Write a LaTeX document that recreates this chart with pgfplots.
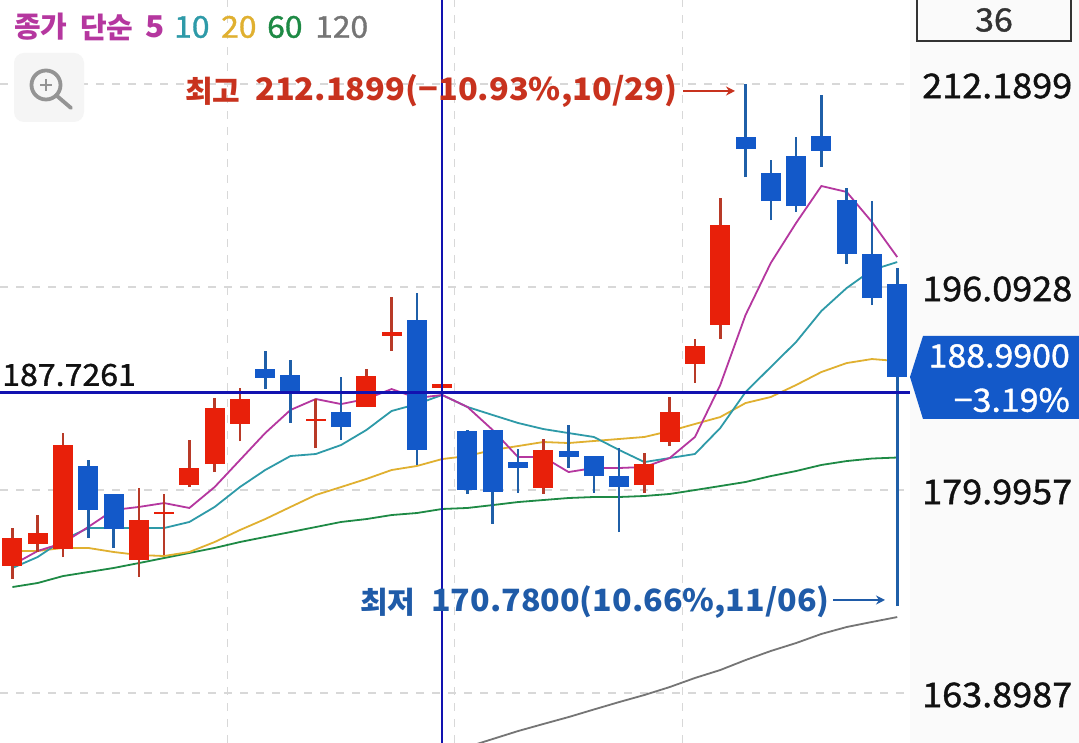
\documentclass[border=0pt]{standalone}
\usepackage{fontspec}
\setmainfont{Noto Sans CJK KR}
\newfontfamily\numf[FakeStretch=1.06,FakeBold=1.2]{Noto Sans CJK KR}
\newfontfamily\numb[FakeStretch=1.05]{Noto Sans CJK KR}
\usepackage{pgfplots}
\usepackage{pgfplotstable}
\pgfplotsset{compat=1.18}
\usetikzlibrary{arrows.meta}
\definecolor{cred}{HTML}{E8200A}
\definecolor{cblue}{HTML}{1359C9}
\definecolor{wred}{HTML}{B83A28}
\definecolor{wblue}{HTML}{1F5FA8}
\definecolor{ma5}{HTML}{B5379F}
\definecolor{ma10}{HTML}{2E9AA8}
\definecolor{ma20}{HTML}{E0B030}
\definecolor{ma60}{HTML}{1E8A45}
\definecolor{ma120}{HTML}{757575}
\definecolor{cross}{HTML}{1212B0}
\definecolor{gridc}{HTML}{D8D8D8}
\definecolor{panel}{HTML}{FAFAFA}
\definecolor{lbl}{HTML}{111111}
\definecolor{hi}{HTML}{C8321E}
\definecolor{lo}{HTML}{1F5BA8}
\pgfplotstableread{
x high low top bot
0 176.98 172.94 176.19 173.97
1 178.01 175.08 176.59 175.71
2 184.51 174.68 183.56 175.32
5 180.15 173.10 177.61 174.44
6 179.68 174.84 178.25 178.13
7 183.96 180.23 181.74 180.39
8 187.29 181.42 186.50 182.05
9 188.08 183.88 187.21 185.23
12 187.21 183.32 185.61 185.49
14 189.59 186.58 189.03 186.58
15 195.30 191.02 192.52 192.21
17 189.91 186.73 188.40 188.08
21 184.04 179.68 183.17 180.15
25 182.93 179.76 182.05 180.39
26 187.37 183.48 186.18 183.80
27 191.97 188.48 191.41 189.99
28 203.15 191.97 201.01 193.08
}\redtable
\pgfplotstableread{
x high low top bot
3 182.37 176.19 181.90 178.41
4 179.68 175.40 179.68 176.90
10 191.02 188.00 189.59 188.88
11 190.30 185.31 189.11 187.61
13 188.95 183.96 186.18 184.99
16 195.62 181.98 193.47 183.17
18 184.75 179.68 184.67 179.99
19 184.75 177.30 184.75 179.83
20 183.24 179.76 182.21 181.74
22 185.15 181.74 183.09 182.61
23 182.69 179.76 182.69 181.10
24 183.32 176.66 181.10 180.23
29 212.19 204.81 207.99 207.03
30 206.16 201.40 205.13 202.91
31 207.99 202.04 206.48 202.51
32 211.32 205.61 208.07 206.88
33 203.94 197.91 202.99 198.71
34 202.91 194.66 198.71 195.22
35 197.60 170.78 196.33 188.99
}\bluetable
\pgfplotstableread{
x m5 m10 m20 m60
0 174.05 173.81 175.16 172.30
1 175.16 174.68 175.16 172.62
2 175.79 176.03 175.40 173.17
3 177.06 176.98 175.40 173.49
4 178.41 176.98 175.08 173.81
5 178.65 176.98 174.84 174.20
6 178.96 176.98 174.76 174.60
7 178.57 177.46 175.08 175.00
8 180.23 178.65 175.87 175.40
9 182.37 180.23 176.82 175.87
10 184.51 181.58 177.69 176.27
11 186.34 182.69 178.65 176.66
12 187.21 182.85 179.60 177.06
13 186.81 183.56 180.23 177.46
14 187.21 184.75 180.87 177.69
15 188.00 186.26 181.58 178.01
16 187.29 186.81 181.90 178.17
17 187.53 187.53 182.45 178.49
18 186.58 186.58 182.69 178.57
19 184.75 185.94 183.17 178.80
20 182.61 185.31 183.48 179.04
21 182.61 184.83 183.80 179.20
22 181.42 184.51 183.72 179.36
23 181.74 184.20 183.88 179.44
24 181.74 183.17 184.04 179.44
25 181.82 182.21 184.20 179.52
26 182.53 182.53 184.67 179.68
27 184.20 182.85 185.23 179.99
28 188.32 184.91 185.78 180.31
29 193.87 187.76 186.89 180.63
30 198.00 189.75 187.37 181.10
31 201.17 191.73 188.32 181.50
32 204.10 194.19 189.35 181.98
33 203.63 196.01 190.06 182.29
34 201.25 197.44 190.38 182.49
35 198.47 198.07 190.22 182.57
}\matable
\pgfplotstableread{
x m120
18 159.62
19 160.25
20 160.88
21 161.44
22 161.99
23 162.59
24 163.18
25 163.74
26 164.37
27 165.09
28 165.72
29 166.51
30 167.23
31 167.86
32 168.58
33 169.13
34 169.53
35 169.92
}\matwo
\begin{document}
\begin{tikzpicture}
\useasboundingbox (0,0) rectangle (1079pt,743pt);
\fill[white] (0,0) rectangle (1079pt,743pt);
\fill[panel] (910pt,0) rectangle (1079pt,743pt);
\begin{axis}[
  at={(0,0)}, anchor=south west,
  width=910pt, height=743pt, scale only axis,
  xmin=-0.4905, xmax=35.506, ymin=159.934, ymax=218.851,
  axis line style={draw=none},
  major tick length=0pt,
  xtick={8.5,17.5,26.5}, xticklabels={},
  ytick={163.8987,179.9957,196.0928,212.1899},
  yticklabels={163.8987,179.9957,196.0928,212.1899},
  yticklabel pos=right,
  yticklabel style={anchor=west, inner sep=0pt, xshift=12pt, yshift=-2pt, font=\numf\fontsize{34}{34}\selectfont, text=lbl},
  grid=major,
  major grid style={gridc, line width=1.2pt, dash pattern=on 8pt off 8pt},
]
\addplot[ma120, line width=1.8pt, forget plot] table[x=x,y=m120] {\matwo};
\addplot[ma60, line width=1.8pt, forget plot] table[x=x,y=m60] {\matable};
\addplot[ma20, line width=1.8pt, forget plot] table[x=x,y=m20] {\matable};
\addplot[ma10, line width=1.8pt, forget plot] table[x=x,y=m10] {\matable};
\addplot[ma5, line width=1.8pt, forget plot] table[x=x,y=m5] {\matable};
% wicks
\addplot[draw=none, mark=none, forget plot, error bars/.cd, y dir=plus, y explicit, error mark=none,
  error bar style={line width=2.6pt, draw=wred}]
  table[x=x, y=low, y error plus expr=\thisrow{high}-\thisrow{low}] {\redtable};
\addplot[draw=none, mark=none, forget plot, error bars/.cd, y dir=plus, y explicit, error mark=none,
  error bar style={line width=2.6pt, draw=wblue}]
  table[x=x, y=low, y error plus expr=\thisrow{high}-\thisrow{low}] {\bluetable};
% bodies
\addplot[draw=none, mark=none, forget plot, error bars/.cd, y dir=plus, y explicit, error mark=none,
  error bar style={line width=20pt, draw=cred}]
  table[x=x, y=bot, y error plus expr=\thisrow{top}-\thisrow{bot}] {\redtable};
\addplot[draw=none, mark=none, forget plot, error bars/.cd, y dir=plus, y explicit, error mark=none,
  error bar style={line width=20pt, draw=cblue}]
  table[x=x, y=bot, y error plus expr=\thisrow{top}-\thisrow{bot}] {\bluetable};
% crosshair
\addplot[cross, line width=2.6pt, forget plot] coordinates {(-0.4905,187.7261) (35.506,187.7261)};
\addplot[cross, line width=2.6pt, forget plot] coordinates {(17,159.934) (17,218.851)};
\end{axis}
\begin{scope}[x=1pt,y=-1pt,yshift=743pt]
\def\sz#1{\fontsize{#1}{#1}\selectfont}
% legend
\node[anchor=west,inner sep=0,text=ma5] at (14,27) {\sz{29}\bfseries 종가};
\node[anchor=west,inner sep=0,text=ma5] at (80,27) {\sz{29}\bfseries 단순};
\node[anchor=west,inner sep=0,text=ma5] at (145,27) {\numb\sz{30}\bfseries 5};
\node[anchor=west,inner sep=0,text=ma10] at (174,27) {\numf\sz{30}10};
\node[anchor=west,inner sep=0,text=ma20] at (221,27) {\numf\sz{30}20};
\node[anchor=west,inner sep=0,text=ma60] at (267,27) {\numf\sz{30}60};
\node[anchor=west,inner sep=0,text=ma120] at (315,27) {\numf\sz{30}120};
% zoom icon
\fill[black!4,rounded corners=10pt] (14,53) rectangle (84,122);
\draw[black!42,line width=3.8pt] (46,85) circle (14.5);
\draw[black!42,line width=3.8pt,line cap=round] (57,96) -- (71,108);
\draw[black!42,line width=2.8pt] (40,85) -- (52,85) (46,79) -- (46,91);
% box
\draw[black!80,line width=1.4pt] (917,-5) rectangle (1071,41);
\node[inner sep=0,text=black!80] at (994,20) {\numf\sz{32}36};
% high/low
\node[anchor=west,inner sep=0,text=hi] at (185,91) {\sz{30}\bfseries 최고};
\node[anchor=west,inner sep=0,text=hi] at (255,91) {\numb\sz{31}\bfseries 212.1899(−10.93\%,10/29)};
\draw[hi,line width=1.4pt,-{Stealth[length=9pt,width=9pt]}] (683,91) -- (735,91);
\node[anchor=west,inner sep=0,text=lo] at (360,602) {\sz{30}\bfseries 최저};
\node[anchor=west,inner sep=0,text=lo] at (431,602) {\numb\sz{30.7}\bfseries 170.7800(10.66\%,11/06)};
\draw[lo,line width=1.4pt,-{Stealth[length=9pt,width=9pt]}] (833,600) -- (885,600);
% crosshair value
\node[anchor=west,inner sep=0,text=lbl] at (2,375) {\numf\sz{30.3}187.7261};
% tag
\fill[cblue] (910,377) -- (923,336) -- (1079,336) -- (1079,419) -- (923,419) -- cycle;
\node[anchor=east,inner sep=0,text=white] at (1070,356) {\numf\sz{32}188.9900};
\node[anchor=east,inner sep=0,text=white] at (1070,400) {\numf\sz{32}−3.19\%};
\end{scope}
\end{tikzpicture}
\end{document}
